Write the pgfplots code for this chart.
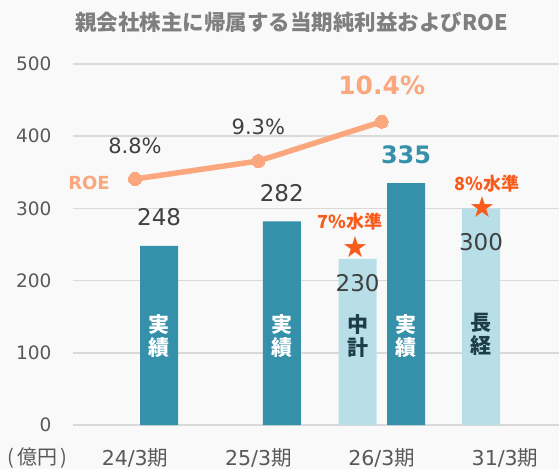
\documentclass[border=0pt]{standalone}
\usepackage{pgfplots}
\pgfplotsset{compat=1.18}
\usepackage{fontspec}
\setmainfont{DejaVu Sans}
\newfontfamily\jp{Noto Sans CJK JP}
\newfontfamily\dv{DejaVu Sans}
\definecolor{bgc}{HTML}{F9F9F9}
\definecolor{gridc}{HTML}{D9D9D9}
\definecolor{tealc}{HTML}{3590AA}
\definecolor{lightc}{HTML}{B8DFE8}
\definecolor{salmon}{HTML}{FBA77E}
\definecolor{starc}{HTML}{F85C1C}
\definecolor{tickc}{HTML}{595959}
\definecolor{labc}{HTML}{404040}
\definecolor{titlec}{HTML}{7F7F7F}
\definecolor{darkc}{HTML}{1E3D4B}
\newcommand\fs[1]{\fontsize{#1}{#1}\selectfont}
\begin{document}
\begin{tikzpicture}[x=1pt,y=1pt]
\path[use as bounding box, fill=bgc] (-73,-44) rectangle (486,425);
\begin{axis}[
  at={(0,0)}, anchor=south west,
  scale only axis, width=486pt, height=361pt,
  xmin=-0.503, xmax=3.438, ymin=0, ymax=500,
  axis line style={draw=none},
  major tick length=0pt,
  tick style={draw=none},
  ymajorgrids, grid style={gridc, line width=1.5pt},
  ytick={0,100,200,300,400,500},
  xtick={0,1,2,3},
  xticklabels={24/3{\jp 期},25/3{\jp 期},26/3{\jp 期},31/3{\jp 期}},
  /pgf/number format/assume math mode=true,
  yticklabel style={font=\dv\fs{18.5}, text=tickc, anchor=east, xshift=-18pt},
  xticklabel style={font=\dv\fs{20.5}, text=tickc, anchor=center, yshift=-32.5pt},
  clip=false,
]
\addplot[ybar, bar shift=0pt, bar width=38pt, fill=tealc, draw=none]
  coordinates {(0.195,248) (1.19,282) (2.198,335)};
\addplot[ybar, bar shift=0pt, bar width=38pt, fill=lightc, draw=none]
  coordinates {(1.805,230) (2.806,300)};
\addplot[only marks, mark=text, text mark={\textcolor{starc}{\dv\fs{29}★}}]
  coordinates {(1.79,246.5) (2.814,302)};
% value labels
\node[font=\dv\fs{23}, text=labc] at (axis cs:0.195,288) {248};
\node[font=\dv\fs{23}, text=labc] at (axis cs:1.19,321) {282};
\node[font=\dv\bfseries\fs{24}, text=tealc] at (axis cs:2.198,374) {335};
\node[font=\dv\fs{23}, text=labc] at (axis cs:1.805,197) {230};
\node[font=\dv\fs{23}, text=labc] at (axis cs:2.806,253) {300};
\node[font=\jp\bfseries\fs{18}, text=starc] at (axis cs:1.744,281) {7\%水準};
\node[font=\jp\bfseries\fs{18}, text=starc] at (axis cs:2.855,335) {8\%水準};
% ROE texts
\node[font=\dv\fs{21}, text=labc] at (axis cs:0,386) {8.8\%};
\node[font=\dv\fs{21}, text=labc] at (axis cs:1,413) {9.3\%};
\node[font=\dv\bfseries\fs{25}, text=salmon] at (axis cs:2,471) {10.4\%};
\node[font=\dv\bfseries\fs{18}, text=salmon] at (axis cs:-0.373,335) {ROE};
% in-bar texts
\node[font=\jp\bfseries\fs{21}, text=white, align=center, inner sep=0pt] at (axis cs:0.195,123) {実\\[2pt]績};
\node[font=\jp\bfseries\fs{21}, text=white, align=center, inner sep=0pt] at (axis cs:1.19,123) {実\\[2pt]績};
\node[font=\jp\bfseries\fs{21}, text=white, align=center, inner sep=0pt] at (axis cs:2.198,123) {実\\[2pt]績};
\node[font=\jp\bfseries\fs{21}, text=darkc, align=center, inner sep=0pt] at (axis cs:1.805,123) {中\\[2pt]計};
\node[font=\jp\bfseries\fs{21}, text=darkc, align=center, inner sep=0pt] at (axis cs:2.806,126) {長\\[2pt]経};
\end{axis}
\begin{axis}[
  at={(0,0)}, anchor=south west,
  scale only axis, width=486pt, height=361pt,
  xmin=-0.503, xmax=3.438, ymin=1.93, ymax=12.01,
  hide axis, clip=false,
]
\addplot[salmon, line width=5.5pt, mark=*, mark size=6.5pt,
  mark options={fill=salmon, draw=salmon, line width=0pt}]
  coordinates {(0,8.8) (1,9.3) (2,10.4)};
\end{axis}
\node[font=\jp\bfseries\fs{21.5}, text=titlec] at (218.5,403) {親会社株主に帰属する当期純利益およびROE};
\node[font=\jp\fs{20}, text=tickc] at (-35.5,-33) {(\,億円\,)};
\end{tikzpicture}
\end{document}
